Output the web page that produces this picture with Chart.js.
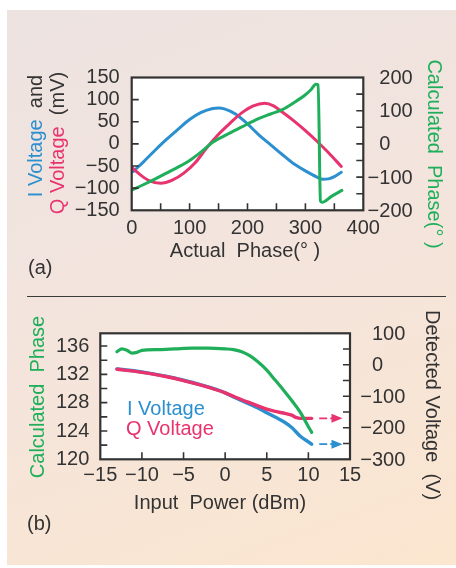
<!DOCTYPE html>
<html>
<head>
<meta charset="utf-8">
<script src="https://cdn.jsdelivr.net/npm/chart.js@4.4.1/dist/chart.umd.min.js"></script>
<style>
    html, body { margin: 0; padding: 0; background: #fff; }
    body { width: 456px; height: 568px; position: relative; overflow: hidden;
           font-family: "Liberation Sans", Arial, sans-serif; color: #333; }
    #panel { position: absolute; left: 7px; top: 10px; width: 449px; height: 555px;
             background: linear-gradient(160deg, #ede3e1 0%, #f3e4dd 45%, #fbe6cf 100%); }
    canvas { position: absolute; left: 0; }
    .lbl { position: absolute; font-size: 20px; white-space: pre; line-height: 1; }
    .rot { position: absolute; font-size: 20px; white-space: pre; line-height: 1;
           transform: translate(-50%, -50%) rotate(-90deg); }
    .rotR { position: absolute; font-size: 20px; white-space: pre; line-height: 1;
            transform: translate(-50%, -50%) rotate(90deg); }
    .ctr { position: absolute; font-size: 20px; white-space: pre; line-height: 1;
           transform: translate(-50%, -50%); }
    #sep { position: absolute; left: 27px; top: 296px; width: 419px; height: 1.4px; background: #3a3a3a; }
</style>
</head>
<body>
<div id="panel"></div>
<canvas id="chartA" width="456" height="185" style="top:60px"></canvas>
<canvas id="chartB" width="456" height="230" style="top:300px"></canvas>
<div id="sep"></div>

<!-- panel (a) titles -->
<div class="rot" style="left:35px; top:136px"><span style="color:#2b8fd0">I Voltage</span>  and</div>
<div class="rot" style="left:57px; top:143px"><span style="color:#e8336e">Q Voltage</span>  (mV)</div>
<div class="rotR" style="left:435px; top:154px; color:#1fae5a">Calculated  Phase(° )</div>
<div class="ctr" style="left:245px; top:250px">Actual  Phase(° )</div>
<div class="lbl" style="left:28px; top:257px">(a)</div>

<!-- panel (b) titles -->
<div class="rot" style="left:37px; top:397px; color:#1fae5a">Calculated  Phase</div>
<div class="rotR" style="left:433px; top:405px">Detected Voltage  (V)</div>
<div class="ctr" style="left:220px; top:502px">Input  Power (dBm)</div>
<div class="lbl" style="left:127px; top:398px; color:#2b8fd0">I Voltage</div>
<div class="lbl" style="left:126px; top:418px; color:#e8336e">Q Voltage</div>
<div class="lbl" style="left:27px; top:513px">(b)</div>

<script>
// ---- panel (a): voltages and calculated phase vs actual phase ----
const iPhase = [3, 20, 40, 60, 80, 100, 120, 140, 150, 160, 180, 200, 220, 240, 260, 280, 300, 320, 330, 340, 350, 362];
const iVolt  = [-62, -41, -15, 10, 33, 55, 71, 80, 81, 79, 67, 45, 20, -2, -24, -45, -61, -75, -80, -79, -74, -64];
const qPhase = [0, 15, 30, 50, 70, 90, 110, 130, 150, 170, 190, 210, 230, 245, 260, 280, 300, 320, 340, 362];
const qVolt  = [-53, -70, -83, -89, -82, -66, -42, -8, 22, 47, 70, 86, 92, 86, 72, 52, 30, 6, -20, -51];
const gPhase = [0, 20, 40, 60, 80, 100, 120, 140, 160, 180, 200, 220, 240, 260, 280, 300, 310, 318, 322, 326, 329, 345, 363];
const gCalc  = [-139, -123, -106, -88, -70, -50, -24, 5, 24, 42, 60, 77, 90, 103, 124, 148, 164, 180, 178, -172, -176, -158, -140];

const xTicksA = [0, 100, 200, 300, 400];
const xMarksA = [50, 100, 150, 200, 250, 300, 350];
const yTicksA = [-150, -100, -50, 0, 50, 100, 150];
const yMarksA = [-100, -50, 0, 50, 100];
const y2TicksA = [-200, -100, 0, 100, 200];
const y2MarksA = [-150, -100, -50, 0, 50, 100, 150];

// ---- panel (b): phase and detected voltage vs input power ----
const gPower = [-13, -12.4, -11.8, -11.2, -10.6, -10, -8, -6, -4, -2, 0, 1, 2, 3, 4, 5, 6, 7, 8, 9, 10, 10.4];
const gPhaseB = [135.2, 135.6, 135.4, 135.0, 135.1, 135.4, 135.5, 135.6, 135.7, 135.7, 135.6, 135.5, 135.2, 134.6, 133.7, 132.6, 131.2, 129.8, 128.3, 126.7, 124.6, 123.8];
const qPower = [-13, -11, -9, -7, -5, -3, -1, 0, 1, 2, 3, 4, 5, 6, 7, 8, 8.6, 9, 10.4];
const qDet   = [-14, -20, -28, -38, -50, -64, -80, -89, -100, -111, -121, -131, -141, -148, -153, -160, -168, -170, -170];
const iPower = [-13, -11, -9, -7, -5, -3, -1, 0, 1, 2, 3, 4, 5, 6, 7, 8, 9, 10, 10.4];
const iDet   = [-13, -19, -27, -37, -49, -63, -79, -89, -102, -114, -126, -138, -152, -166, -180, -199, -226, -245, -252];
const arrowPower = [11.3, 14.1];
const arrowLevels = [-170, -252];   // Q, I

const xTicksB = [-15, -10, -5, 0, 5, 10, 15];
const xMarksB = [-10, -5, 0, 5, 10];
const yTicksB = [120, 124, 128, 132, 136];
const yMarksB = [122, 124, 126, 128, 130, 132, 134, 136];
const y2TicksB = [-300, -200, -100, 0, 100];
const y2MarksB = [-250, -200, -150, -100, -50, 0, 50];

const BLUE = '#2b8fd0', PINK = '#e8336e', GREEN = '#1fae5a', INK = '#333333';
const FONT = '"Liberation Sans", Arial, sans-serif';

const pts = (xs, ys) => xs.map((x, i) => ({ x: x, y: ys[i] }));
const minus = v => v < 0 ? '\u2212' + Math.abs(v) : String(v);
const fixed = list => scale => { scale.ticks = list.map(v => ({ value: v })); };
// fixed scale size, no extra room for the end labels
const fitW = w => s => { s.width = w; s.paddingTop = 0; s.paddingBottom = 0; };
const fitH = h => s => { s.height = h; s.paddingLeft = 0; s.paddingRight = 0; };

// white plot area, frame, inward tick marks, right-hand labels and arrows
function framePlugin(cfg) {
    return {
        id: 'frame',
        beforeDraw(chart) {
            const a = chart.chartArea, ctx = chart.ctx;
            ctx.save();
            ctx.fillStyle = '#ffffff';
            ctx.fillRect(a.left, a.top, a.right - a.left, a.bottom - a.top);
            ctx.restore();
        },
        afterDraw(chart) {
            const a = chart.chartArea, ctx = chart.ctx;
            const x = chart.scales.x, y = chart.scales.y, y2 = chart.scales.y2;
            ctx.save();
            ctx.strokeStyle = INK;
            ctx.lineWidth = 1.6;
            ctx.beginPath();
            cfg.xMarks.forEach(v => {
                const p = x.getPixelForValue(v);
                ctx.moveTo(p, a.bottom); ctx.lineTo(p, a.bottom - 7);
            });
            cfg.yMarks.forEach(v => {
                const p = y.getPixelForValue(v);
                ctx.moveTo(a.left, p); ctx.lineTo(a.left + 7, p);
            });
            cfg.y2Marks.forEach(v => {
                const p = y2.getPixelForValue(v);
                ctx.moveTo(a.right, p); ctx.lineTo(a.right - 7, p);
            });
            ctx.stroke();
            ctx.lineWidth = 2.2;
            ctx.strokeRect(a.left, a.top, a.right - a.left, a.bottom - a.top);

            // right axis labels, digits aligned, minus sign hanging left
            ctx.fillStyle = INK;
            ctx.font = '20px ' + FONT;
            ctx.textAlign = 'left';
            ctx.textBaseline = 'middle';
            const mw = ctx.measureText('\u2212').width;
            cfg.y2Ticks.forEach(v => {
                ctx.fillText(minus(v), a.right + cfg.rightPad - (v < 0 ? mw : 0), y2.getPixelForValue(v) + 1);
            });

            // dashed arrows
            if (cfg.arrows) {
                cfg.arrows.forEach(ar => {
                    const x0 = x.getPixelForValue(ar.from), x1 = x.getPixelForValue(ar.to);
                    const py = y2.getPixelForValue(ar.level);
                    ctx.strokeStyle = ar.color;
                    ctx.fillStyle = ar.color;
                    ctx.lineWidth = 1.8;
                    ctx.setLineDash([8, 3]);
                    ctx.beginPath();
                    ctx.moveTo(x0, py); ctx.lineTo(x1 - 9, py);
                    ctx.stroke();
                    ctx.setLineDash([]);
                    ctx.beginPath();
                    ctx.moveTo(x1, py);
                    ctx.lineTo(x1 - 11, py - 4.5);
                    ctx.lineTo(x1 - 11, py + 4.5);
                    ctx.closePath();
                    ctx.fill();
                });
            }
            ctx.restore();
        }
    };
}

function line(data, color, axis, order, width) {
    return {
        data: data, yAxisID: axis, order: order,
        borderColor: color, borderWidth: width, pointRadius: 0,
        tension: 0.35, cubicInterpolationMode: 'monotone', fill: false,
        borderCapStyle: 'round', borderJoinStyle: 'round'
    };
}

function axisBase(extra) {
    return Object.assign({
        type: 'linear',
        grid: { display: false, drawTicks: false },
        border: { display: false }
    }, extra);
}

const tickFont = { family: FONT, size: 20 };
Chart.defaults.font.family = FONT;

new Chart(document.getElementById('chartA'), {
    type: 'line',
    data: {
        datasets: [
            line(pts(gPhase, gCalc), GREEN, 'y2', 1, 3),
            line(pts(qPhase, qVolt), PINK, 'y', 2, 3),
            line(pts(iPhase, iVolt), BLUE, 'y', 3, 3)
        ]
    },
    options: {
        responsive: false,
        animation: false,
        layout: { padding: { left: 71.7, right: 32.7, top: 17.5, bottom: 4.7 } },
        plugins: { legend: { display: false }, tooltip: { enabled: false } },
        scales: {
            x: axisBase({ position: 'bottom', min: 0, max: 400, afterBuildTicks: fixed(xTicksA),
                afterFit: fitH(30),
                ticks: { color: INK, font: tickFont, padding: 6, maxRotation: 0, autoSkip: false } }),
            y: axisBase({ position: 'left', min: -150, max: 150, afterBuildTicks: fixed(yTicksA),
                afterFit: fitW(60),
                ticks: { color: INK, font: tickFont, padding: 12, autoSkip: false, callback: v => minus(v) } }),
            y2: axisBase({ position: 'right', min: -200, max: 200, afterBuildTicks: fixed(y2TicksA),
                afterFit: fitW(60),
                ticks: { display: false } })
        }
    },
    plugins: [framePlugin({ xMarks: xMarksA, yMarks: yMarksA, y2Marks: y2MarksA, y2Ticks: y2TicksA, rightPad: 16 })]
});

new Chart(document.getElementById('chartB'), {
    type: 'line',
    data: {
        datasets: [
            line(pts(gPower, gPhaseB), GREEN, 'y', 1, 3.2),
            line(pts(qPower, qDet), PINK, 'y2', 2, 3.4),
            line(pts(iPower, iDet), BLUE, 'y2', 3, 3.4)
        ]
    },
    options: {
        responsive: false,
        animation: false,
        layout: { padding: { left: 40.3, right: 46, top: 33.3, bottom: 40.7 } },
        plugins: { legend: { display: false }, tooltip: { enabled: false } },
        scales: {
            x: axisBase({ position: 'bottom', min: -15, max: 15, afterBuildTicks: fixed(xTicksB),
                afterFit: fitH(30),
                ticks: { color: INK, font: tickFont, padding: 4, maxRotation: 0, autoSkip: false, callback: v => minus(v) } }),
            y: axisBase({ position: 'left', min: 120, max: 137.8, afterBuildTicks: fixed(yTicksB),
                afterFit: fitW(60),
                ticks: { color: INK, font: tickFont, padding: 11, autoSkip: false } }),
            y2: axisBase({ position: 'right', min: -300, max: 100, afterBuildTicks: fixed(y2TicksB),
                afterFit: fitW(60),
                ticks: { display: false } })
        }
    },
    plugins: [framePlugin({
        xMarks: xMarksB, yMarks: yMarksB, y2Marks: y2MarksB, y2Ticks: y2TicksB, rightPad: 22,
        arrows: [
            { from: arrowPower[0], to: arrowPower[1], level: arrowLevels[0], color: PINK },
            { from: arrowPower[0], to: arrowPower[1], level: arrowLevels[1], color: BLUE }
        ]
    })]
});
</script>
</body>
</html>
